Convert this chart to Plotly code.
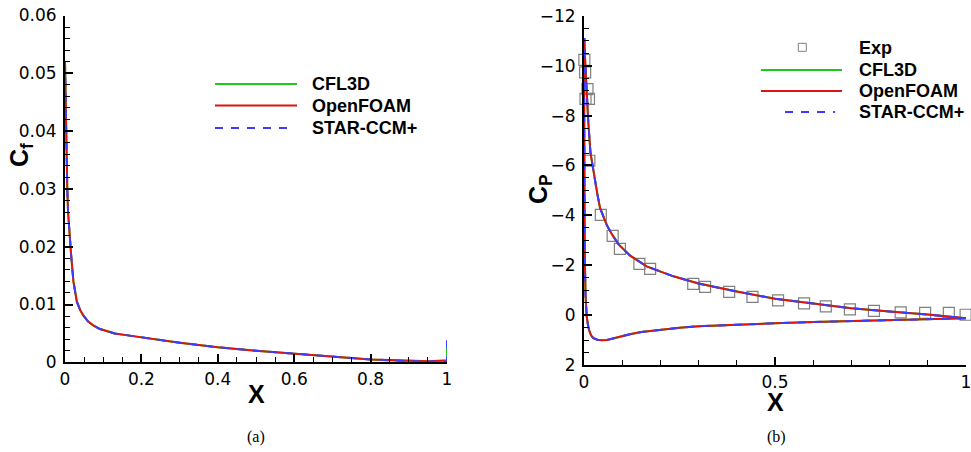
import plotly.graph_objects as go

W, H = 971, 452

# ---- (a) skin friction along the chord ----
cf_x = [0.0, 0.001, 0.0026, 0.004, 0.006, 0.008, 0.011, 0.016, 0.022, 0.031, 0.04,
        0.048, 0.06, 0.074, 0.09, 0.11, 0.13, 0.16, 0.2, 0.25, 0.3, 0.35, 0.4, 0.5,
        0.6, 0.7, 0.8, 0.9, 0.95, 0.99, 1.0, 1.0]
cf_cfl3d = [0.052, 0.047, 0.043, 0.036, 0.030, 0.026, 0.0226, 0.0186, 0.0140, 0.0105,
            0.0090, 0.0081, 0.0071, 0.0064, 0.0058, 0.0054, 0.0050, 0.0047, 0.0043,
            0.0038, 0.0034, 0.0030, 0.0026, 0.0020, 0.0015, 0.0010, 0.0005, 0.0002,
            0.0001, 0.0001, 0.0001, 0.0026]
cf_openfoam = [0.052, 0.047, 0.043, 0.036, 0.030, 0.026, 0.0226, 0.0186, 0.0140, 0.0105,
               0.0090, 0.0081, 0.0071, 0.0064, 0.0058, 0.0054, 0.0050, 0.0047, 0.0043,
               0.0038, 0.0034, 0.0030, 0.0026, 0.0020, 0.0015, 0.0010, 0.0005, 0.0003,
               0.0002, 0.0003, 0.0003, 0.0005]
cf_starccm = [0.052, 0.047, 0.043, 0.036, 0.030, 0.026, 0.0226, 0.0186, 0.0140, 0.0105,
              0.0090, 0.0081, 0.0071, 0.0064, 0.0058, 0.0054, 0.0050, 0.0047, 0.0043,
              0.0038, 0.0034, 0.0030, 0.0026, 0.0020, 0.0015, 0.0010, 0.0005, 0.0002,
              0.0001, 0.0001, 0.0001, 0.0040]

# ---- (b) pressure coefficient: lower TE -> leading edge -> upper TE ----
cp_x = [1.0, 0.9, 0.8, 0.7, 0.6, 0.5, 0.4, 0.3, 0.25, 0.2, 0.15, 0.12, 0.1, 0.077,
        0.06, 0.045, 0.035, 0.025, 0.02, 0.015, 0.011, 0.007, 0.004, 0.002, 0.001,
        0.0005, 0.0002, 0.0, 0.0003, 0.001, 0.003, 0.005, 0.008, 0.011, 0.017, 0.022,
        0.029, 0.035, 0.042, 0.05, 0.06, 0.075, 0.09, 0.12, 0.164, 0.234, 0.3, 0.4,
        0.5, 0.6, 0.7, 0.8, 0.9, 1.0]
cp_cfl3d = [0.12, 0.15, 0.18, 0.22, 0.27, 0.32, 0.37, 0.44, 0.50, 0.57, 0.67, 0.76, 0.84,
            0.94, 0.99, 1.0, 0.98, 0.92, 0.84, 0.68, 0.44, 0.04, -0.8, -2.5, -4.5,
            -6.5, -8.5, -10.2, -11.0, -11.1, -10.2, -9.5, -8.5, -7.8, -6.5, -6.0,
            -5.3, -4.85, -4.3, -4.0, -3.6, -3.2, -2.85, -2.4, -1.96, -1.56, -1.27,
            -0.95, -0.66, -0.47, -0.28, -0.15, -0.03, 0.12]
cp_openfoam = [0.12, 0.15, 0.18, 0.22, 0.27, 0.32, 0.37, 0.44, 0.50, 0.57, 0.67, 0.76, 0.84,
               0.94, 0.99, 1.0, 0.98, 0.92, 0.84, 0.68, 0.44, 0.04, -0.8, -2.5, -4.5,
               -6.5, -8.5, -10.2, -11.0, -11.1, -10.2, -9.5, -8.5, -7.8, -6.5, -6.0,
               -5.3, -4.85, -4.3, -4.0, -3.6, -3.2, -2.85, -2.4, -1.96, -1.56, -1.27,
               -0.95, -0.66, -0.47, -0.28, -0.15, -0.03, 0.12]
cp_starccm = [0.12, 0.15, 0.18, 0.22, 0.27, 0.32, 0.37, 0.44, 0.50, 0.57, 0.67, 0.76, 0.84,
              0.94, 0.99, 1.0, 0.98, 0.92, 0.84, 0.68, 0.44, 0.04, -0.8, -2.5, -4.5,
              -6.5, -8.5, -10.2, -11.0, -11.1, -10.2, -9.5, -8.5, -7.8, -6.5, -6.0,
              -5.3, -4.85, -4.3, -4.0, -3.6, -3.2, -2.85, -2.4, -1.96, -1.56, -1.27,
              -0.95, -0.66, -0.47, -0.28, -0.15, -0.03, 0.12]

exp_x = [0.001, 0.003, 0.009, 0.004, 0.013, 0.014, 0.044, 0.075, 0.094, 0.145, 0.173,
         0.286, 0.317, 0.38, 0.441, 0.508, 0.576, 0.633, 0.696, 0.759, 0.829, 0.893,
         0.955, 0.999]
exp_cp = [-10.23, -9.73, -9.06, -8.67, -8.67, -6.19, -4.02, -3.18, -2.66, -2.06, -1.86,
          -1.26, -1.14, -0.94, -0.74, -0.60, -0.48, -0.36, -0.24, -0.18, -0.12, -0.10,
          -0.10, -0.02]

cf_ticks = [0, 0.01, 0.02, 0.03, 0.04, 0.05, 0.06]
cp_ticks = [-12, -10, -8, -6, -4, -2, 0, 2]
xa_ticks = [0, 0.2, 0.4, 0.6, 0.8, 1]
xb_ticks = [0, 0.5, 1]

GREEN, RED, BLUE, GRAY = "#1ec81e", "#dc1414", "#3c3cff", "#808080"
DASH = "8px,8px"
TICK_FONT = dict(family="DejaVu Sans", size=17, color="black")


def px_x(p):
    return p / W


def px_y(p):
    return 1 - p / H


fig = go.Figure()

# (a)
fig.add_trace(go.Scatter(x=cf_x, y=cf_cfl3d, mode="lines", line=dict(color=GREEN, width=2),
                         xaxis="x", yaxis="y", name="CFL3D"))
fig.add_trace(go.Scatter(x=cf_x, y=cf_openfoam, mode="lines", line=dict(color=RED, width=2),
                         xaxis="x", yaxis="y", name="OpenFOAM"))
fig.add_trace(go.Scatter(x=cf_x, y=cf_starccm, mode="lines",
                         line=dict(color=BLUE, width=2, dash=DASH),
                         xaxis="x", yaxis="y", name="STAR-CCM+"))

# (b)
fig.add_trace(go.Scatter(x=exp_x, y=exp_cp, mode="markers",
                         marker=dict(symbol="square-open", size=11, color=GRAY,
                                     line=dict(width=1.2, color=GRAY)),
                         cliponaxis=False, xaxis="x2", yaxis="y2", name="Exp"))
fig.add_trace(go.Scatter(x=cp_x, y=cp_cfl3d, mode="lines", line=dict(color=GREEN, width=2),
                         xaxis="x2", yaxis="y2", name="CFL3D"))
fig.add_trace(go.Scatter(x=cp_x, y=cp_openfoam, mode="lines", line=dict(color=RED, width=2),
                         xaxis="x2", yaxis="y2", name="OpenFOAM"))
fig.add_trace(go.Scatter(x=cp_x, y=cp_starccm, mode="lines",
                         line=dict(color=BLUE, width=2, dash=DASH),
                         xaxis="x2", yaxis="y2", name="STAR-CCM+"))


def axis(domain, rng, ticks, minor, anchor, standoff):
    return dict(domain=domain, range=rng, tickvals=ticks, anchor=anchor,
                showline=True, linecolor="black", linewidth=2, mirror=False,
                ticks="inside", ticklen=8, tickwidth=2, tickcolor="black",
                minor=dict(dtick=minor, tick0=0, ticks="inside", ticklen=5,
                           tickwidth=1, tickcolor="black"),
                showgrid=False, zeroline=False, tickfont=TICK_FONT,
                ticklabelstandoff=standoff, ticklabeloverflow="allow",
                automargin=False)


fig.update_layout(
    width=W, height=H, autosize=False, margin=dict(l=0, r=0, t=0, b=0, pad=0),
    paper_bgcolor="white", plot_bgcolor="white", showlegend=False,
    xaxis=axis([px_x(65), px_x(447)], [0, 1], xa_ticks, 0.05, "y", 0),
    yaxis=axis([px_y(362.3), px_y(15.5)], [0, 0.06], cf_ticks, 0.002, "x", 3),
    xaxis2=axis([px_x(584), px_x(966)], [0, 1], xb_ticks, 0.1, "y2", 0),
    yaxis2=axis([px_y(365.2), px_y(15.7)], [2, -12], cp_ticks, 0.5, "x2", 3),
)

TITLE_FONT = dict(family="Liberation Sans", size=25, color="black", weight="bold")
LEG_FONT = dict(family="Liberation Sans", size=18, color="black", weight="bold")
CAP_FONT = dict(family="Liberation Serif", size=16, color="black")

ann = [
    dict(text="X", x=px_x(256.5), y=px_y(394), font=TITLE_FONT),
    dict(text="X", x=px_x(775), y=px_y(402), font=TITLE_FONT),
    dict(text="C<sub>f</sub>", x=px_x(21), y=px_y(155), textangle=-90, font=TITLE_FONT),
    dict(text="C<sub>P</sub>", x=px_x(540), y=px_y(189), textangle=-90, font=TITLE_FONT),
    dict(text="(a)", x=px_x(256), y=px_y(437), font=CAP_FONT),
    dict(text="(b)", x=px_x(776), y=px_y(437), font=CAP_FONT),
]
for a in ann:
    a.update(xref="paper", yref="paper", showarrow=False, xanchor="center", yanchor="middle")

# legend entries: (label, colour, dash, y-pixel)
legend_a = [("CFL3D", GREEN, None, 84), ("OpenFOAM", RED, None, 105.5),
            ("STAR-CCM+", BLUE, "dash", 128)]
legend_b = [("CFL3D", GREEN, None, 70), ("OpenFOAM", RED, None, 91),
            ("STAR-CCM+", BLUE, "dash", 112)]

shapes = []
for label, col, dash, yp in legend_a:
    x0, x1 = (215, 289) if dash else (215, 297)
    shapes.append(dict(type="line", xref="paper", yref="paper", x0=px_x(x0), x1=px_x(x1),
                       y0=px_y(yp), y1=px_y(yp),
                       line=dict(color=col, width=2, dash=DASH if dash else "solid")))
    ann.append(dict(text=label, x=px_x(310), y=px_y(yp), xref="paper", yref="paper",
                    showarrow=False, xanchor="left", yanchor="middle", font=LEG_FONT))
for label, col, dash, yp in legend_b:
    x0, x1 = (785, 835) if dash else (761, 842)
    shapes.append(dict(type="line", xref="paper", yref="paper", x0=px_x(x0), x1=px_x(x1),
                       y0=px_y(yp), y1=px_y(yp),
                       line=dict(color=col, width=2, dash=DASH if dash else "solid")))
    ann.append(dict(text=label, x=px_x(857), y=px_y(yp), xref="paper", yref="paper",
                    showarrow=False, xanchor="left", yanchor="middle", font=LEG_FONT))
shapes.append(dict(type="rect", xref="paper", yref="paper", x0=px_x(798.3), x1=px_x(806.3),
                   y0=px_y(51.3), y1=px_y(43.3), line=dict(color=GRAY, width=1)))
ann.append(dict(text="Exp", x=px_x(857), y=px_y(47.5), xref="paper", yref="paper",
                showarrow=False, xanchor="left", yanchor="middle", font=LEG_FONT))

fig.update_layout(annotations=ann, shapes=shapes)
fig.write_html("out.html")
